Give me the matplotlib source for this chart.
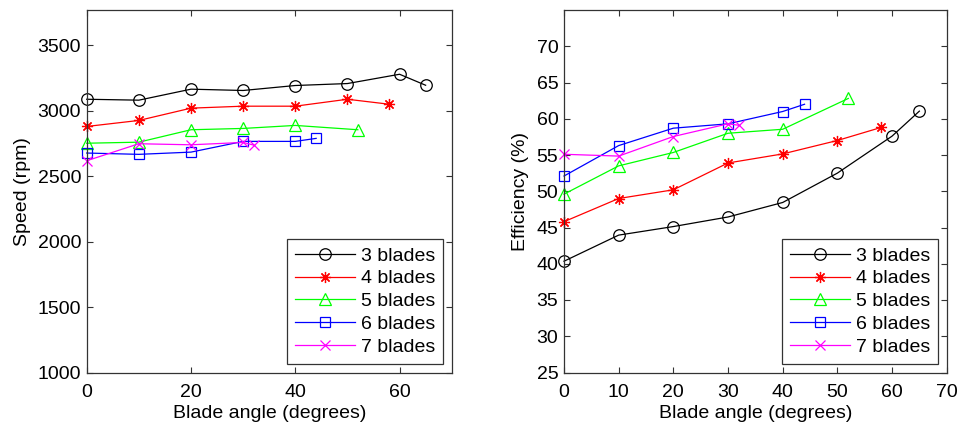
import matplotlib
matplotlib.use("Agg")
import matplotlib.pyplot as plt

plt.rcParams['font.family'] = ['Liberation Sans', 'DejaVu Sans']

labels = ["3 blades", "4 blades", "5 blades", "6 blades", "7 blades"]
colors = ["#000000", "#ff0000", "#00ff00", "#0000ff", "#ff00ff"]

# Speed (rpm) vs blade angle
sp_x3 = [0, 10, 20, 30, 40, 50, 60, 65]
sp_y3 = [3088, 3081, 3165, 3155, 3193, 3208, 3279, 3195]
sp_x4 = [0, 10, 20, 30, 40, 50, 58]
sp_y4 = [2880, 2926, 3020, 3035, 3035, 3088, 3050]
sp_x5 = [0, 10, 20, 30, 40, 52]
sp_y5 = [2752, 2760, 2855, 2865, 2888, 2855]
sp_x6 = [0, 10, 20, 30, 40, 44]
sp_y6 = [2677, 2667, 2684, 2766, 2766, 2789]
sp_x7 = [0, 10, 20, 30, 32]
sp_y7 = [2618, 2748, 2740, 2758, 2738]

# Efficiency (%) vs blade angle
ef_x3 = [0, 10, 20, 30, 40, 50, 60, 65]
ef_y3 = [40.35, 43.95, 45.13, 46.45, 48.45, 52.5, 57.6, 61.05]
ef_x4 = [0, 10, 20, 30, 40, 50, 58]
ef_y4 = [45.8, 49.0, 50.2, 53.9, 55.15, 57.0, 58.8]
ef_x5 = [0, 10, 20, 30, 40, 52]
ef_y5 = [49.6, 53.5, 55.35, 58.0, 58.55, 62.8]
ef_x6 = [0, 10, 20, 30, 40, 44]
ef_y6 = [52.1, 56.3, 58.7, 59.3, 61.0, 62.0]
ef_x7 = [0, 10, 20, 30, 32]
ef_y7 = [55.1, 54.85, 57.55, 59.3, 59.1]

sp_xs = [sp_x3, sp_x4, sp_x5, sp_x6, sp_x7]
sp_ys = [sp_y3, sp_y4, sp_y5, sp_y6, sp_y7]
ef_xs = [ef_x3, ef_x4, ef_x5, ef_x6, ef_x7]
ef_ys = [ef_y3, ef_y4, ef_y5, ef_y6, ef_y7]

markers = ['o', (8, 2, 0), '^', 's', 'x']
msizes = [8.3, 8, 9.3, 7.2, 6.5]

W, H = 957, 422
fig = plt.figure(figsize=(W / 100, H / 100), dpi=100)
ax1 = fig.add_axes([86.7 / W, (H - 372.5) / H, (451.7 - 86.7) / W, (372.5 - 10) / H])
ax2 = fig.add_axes([564 / W, (H - 372.5) / H, (946.7 - 564) / W, (372.5 - 10) / H])

FS = 14
for ax, xs, ys in [(ax1, sp_xs, sp_ys), (ax2, ef_xs, ef_ys)]:
    for i in range(5):
        ax.plot(xs[i], ys[i], color=colors[i], marker=markers[i], ms=msizes[i],
                mfc='none', mec=colors[i], mew=0.9, lw=0.9, label=labels[i], clip_on=False)
    ax.tick_params(direction='in', top=True, right=True, labelsize=FS, length=4,
                   width=0.8, color='#333333')
    ax.tick_params(axis='x', pad=8.5)
    ax.tick_params(axis='y', pad=4)
    for s in ax.spines.values():
        s.set_color('#333333')
        s.set_linewidth(0.9)
    ax.set_xlabel('Blade angle (degrees)', fontsize=FS, labelpad=3)
    leg = ax.legend(loc='lower right', fontsize=FS, labelspacing=0.27, handlelength=3.1,
                    handletextpad=0.3, borderpad=0.4, borderaxespad=0.45,
                    fancybox=False, framealpha=1, edgecolor='#333333')
    leg.get_frame().set_linewidth(0.9)

ax1.set_xlim(0, 70)
ax1.set_ylim(1000, 3770)
ax1.set_xticks([0, 20, 40, 60])
ax1.set_yticks([1000, 1500, 2000, 2500, 3000, 3500])
ax1.set_ylabel('Speed (rpm)', fontsize=FS, labelpad=4.5)

ax2.set_xlim(0, 70)
ax2.set_ylim(25, 75)
ax2.set_xticks([0, 10, 20, 30, 40, 50, 60, 70])
ax2.set_yticks([25, 30, 35, 40, 45, 50, 55, 60, 65, 70])
ax2.set_ylabel('Efficiency (%)', fontsize=FS, labelpad=5.5)

fig.savefig('out.png', dpi=100)
